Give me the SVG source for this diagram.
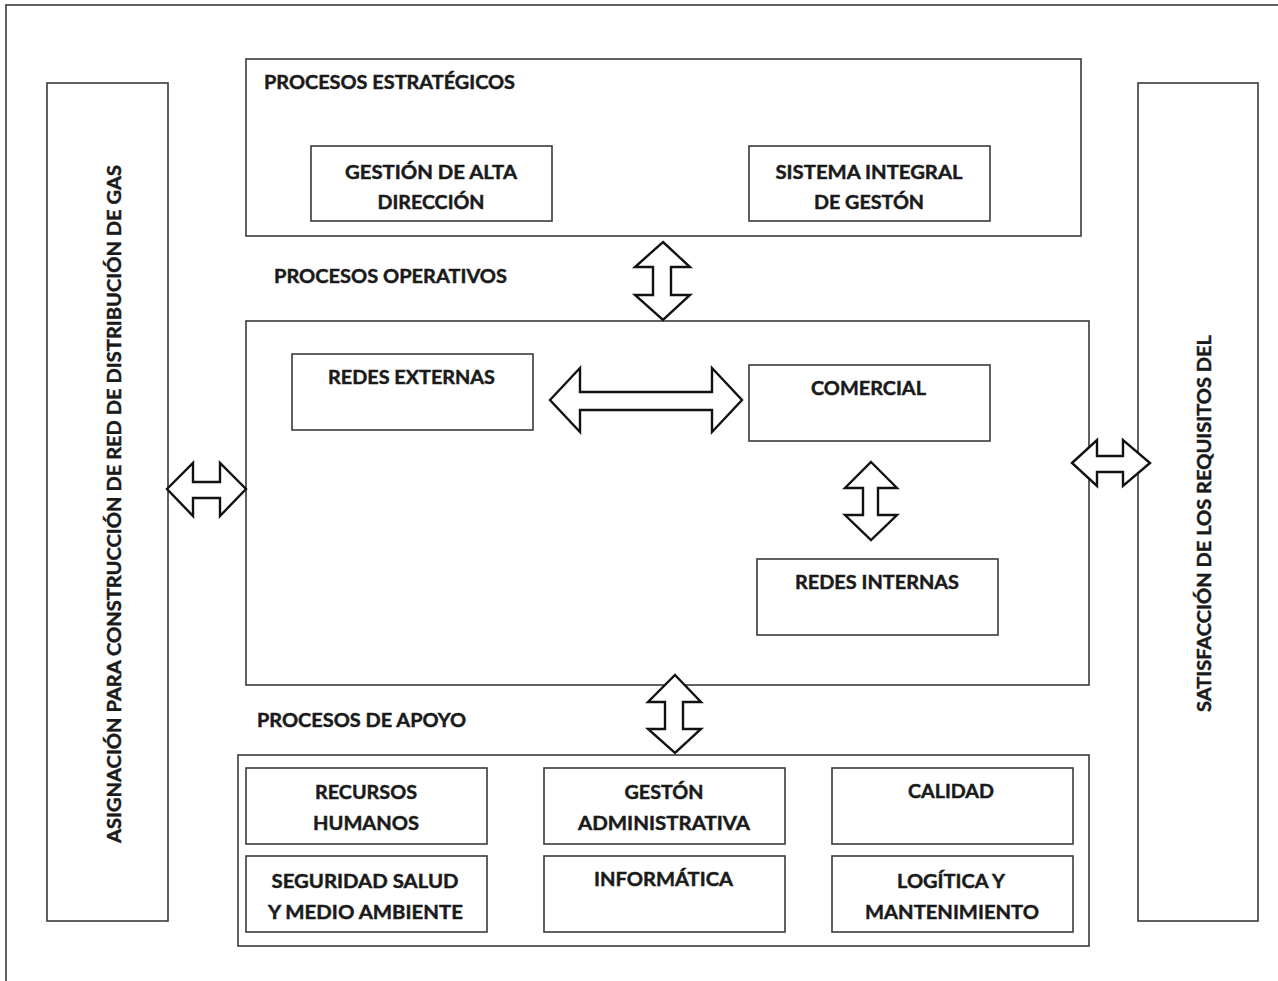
<svg xmlns="http://www.w3.org/2000/svg" width="1278" height="981" viewBox="0 0 1278 981">
  <style>
    .frame { fill: none; stroke: #3a3a3a; stroke-width: 1.6; }
    .box { fill: #ffffff; stroke: #3a3a3a; stroke-width: 1.6; }
    .arrow { fill: #ffffff; stroke: #111111; stroke-width: 2.4; stroke-linejoin: miter; }
    .t { font-family: Lato, "Open Sans", "Liberation Sans", sans-serif; font-weight: bold; font-size: 19px; fill: #1a1a1a; stroke: #1a1a1a; stroke-width: 0.45; }
    .c { text-anchor: middle; }
  </style>
  <rect width="1278" height="981" fill="#ffffff"/>
  <!-- page frame, running off the right and bottom edges -->
  <rect class="frame" x="6" y="5" width="1300" height="1010"/>

  <g id="input-side">
    <rect class="box" x="47" y="83" width="121" height="838"/>
    <text class="t c" transform="translate(121,504) rotate(-90)" textLength="678" lengthAdjust="spacingAndGlyphs">ASIGNACIÓN PARA CONSTRUCCIÓN DE RED DE DISTRIBUCIÓN DE GAS</text>
  </g>

  <g id="output-side">
    <rect class="box" x="1138" y="83" width="120" height="838"/>
    <text class="t c" transform="translate(1211,523.5) rotate(-90)" textLength="377" lengthAdjust="spacingAndGlyphs">SATISFACCIÓN DE LOS REQUISITOS DEL</text>
  </g>

  <g id="procesos-estrategicos">
    <rect class="box" x="246" y="59" width="835" height="177"/>
    <text class="t" x="264" y="89" textLength="251" lengthAdjust="spacingAndGlyphs">PROCESOS ESTRATÉGICOS</text>
  </g>
  <g id="gestion-alta-direccion">
    <rect class="box" x="311" y="146" width="241" height="75"/>
    <text class="t c" x="431" y="179" textLength="172" lengthAdjust="spacingAndGlyphs">GESTIÓN DE ALTA</text>
    <text class="t c" x="431" y="209" textLength="107" lengthAdjust="spacingAndGlyphs">DIRECCIÓN</text>
  </g>
  <g id="sistema-integral">
    <rect class="box" x="749" y="146" width="241" height="75"/>
    <text class="t c" x="869" y="179" textLength="187" lengthAdjust="spacingAndGlyphs">SISTEMA INTEGRAL</text>
    <text class="t c" x="869" y="209" textLength="110" lengthAdjust="spacingAndGlyphs">DE GESTÓN</text>
  </g>

  <g id="procesos-operativos">
    <text class="t" x="274" y="283" textLength="233" lengthAdjust="spacingAndGlyphs">PROCESOS OPERATIVOS</text>
    <rect class="box" x="246" y="321" width="843" height="364"/>
  </g>
  <g id="redes-externas">
    <rect class="box" x="292" y="354" width="241" height="76"/>
    <text class="t c" x="411.5" y="384" textLength="167" lengthAdjust="spacingAndGlyphs">REDES EXTERNAS</text>
  </g>
  <g id="comercial">
    <rect class="box" x="749" y="365" width="241" height="76"/>
    <text class="t c" x="868.5" y="395" textLength="115" lengthAdjust="spacingAndGlyphs">COMERCIAL</text>
  </g>
  <g id="redes-internas">
    <rect class="box" x="757" y="559" width="241" height="76"/>
    <text class="t c" x="877" y="589" textLength="164" lengthAdjust="spacingAndGlyphs">REDES INTERNAS</text>
  </g>

  <g id="procesos-apoyo">
    <text class="t" x="257" y="727" textLength="209" lengthAdjust="spacingAndGlyphs">PROCESOS DE APOYO</text>
    <rect class="box" x="238" y="755" width="851" height="191"/>
  </g>
  <g id="recursos-humanos">
    <rect class="box" x="246" y="768" width="241" height="76"/>
    <text class="t c" x="366" y="799" textLength="102" lengthAdjust="spacingAndGlyphs">RECURSOS</text>
    <text class="t c" x="366" y="830" textLength="106" lengthAdjust="spacingAndGlyphs">HUMANOS</text>
  </g>
  <g id="gestion-administrativa">
    <rect class="box" x="544" y="768" width="241" height="76"/>
    <text class="t c" x="664" y="799" textLength="79" lengthAdjust="spacingAndGlyphs">GESTÓN</text>
    <text class="t c" x="664" y="830" textLength="172" lengthAdjust="spacingAndGlyphs">ADMINISTRATIVA</text>
  </g>
  <g id="calidad">
    <rect class="box" x="832" y="768" width="241" height="76"/>
    <text class="t c" x="951" y="798" textLength="86" lengthAdjust="spacingAndGlyphs">CALIDAD</text>
  </g>
  <g id="seguridad-salud">
    <rect class="box" x="246" y="856" width="241" height="76"/>
    <text class="t c" x="365" y="888" textLength="187" lengthAdjust="spacingAndGlyphs">SEGURIDAD SALUD</text>
    <text class="t c" x="365.5" y="919" textLength="195" lengthAdjust="spacingAndGlyphs">Y MEDIO AMBIENTE</text>
  </g>
  <g id="informatica">
    <rect class="box" x="544" y="856" width="241" height="76"/>
    <text class="t c" x="663.5" y="886" textLength="139" lengthAdjust="spacingAndGlyphs">INFORMÁTICA</text>
  </g>
  <g id="logistica-mantenimiento">
    <rect class="box" x="832" y="856" width="241" height="76"/>
    <text class="t c" x="951" y="888" textLength="108" lengthAdjust="spacingAndGlyphs">LOGÍTICA Y</text>
    <text class="t c" x="952" y="919" textLength="174" lengthAdjust="spacingAndGlyphs">MANTENIMIENTO</text>
  </g>

  <!-- double-headed block arrows between the process areas -->
  <g id="connectors">
    <polygon class="arrow" points="663,242 690,267 671,267 671,295 690,295 663,320 635,295 653,295 653,267 635,267"/>
    <polygon class="arrow" points="550,400 580,368 580,392 712,392 712,368 742,400 712,432 712,410 580,410 580,432"/>
    <polygon class="arrow" points="167,489 193,463 193,482 220,482 220,463 246,489 220,516 220,498 193,498 193,516"/>
    <polygon class="arrow" points="1072,463 1097,440 1097,456 1123,456 1123,440 1150,463 1123,486 1123,472 1097,472 1097,486"/>
    <polygon class="arrow" points="871,462 897,488 878,488 878,515 897,515 871,540 845,515 863,515 863,488 845,488"/>
    <polygon class="arrow" points="675,675 701,702 683,702 683,729 701,729 675,753 648,729 665,729 665,702 648,702"/>
  </g>
</svg>
